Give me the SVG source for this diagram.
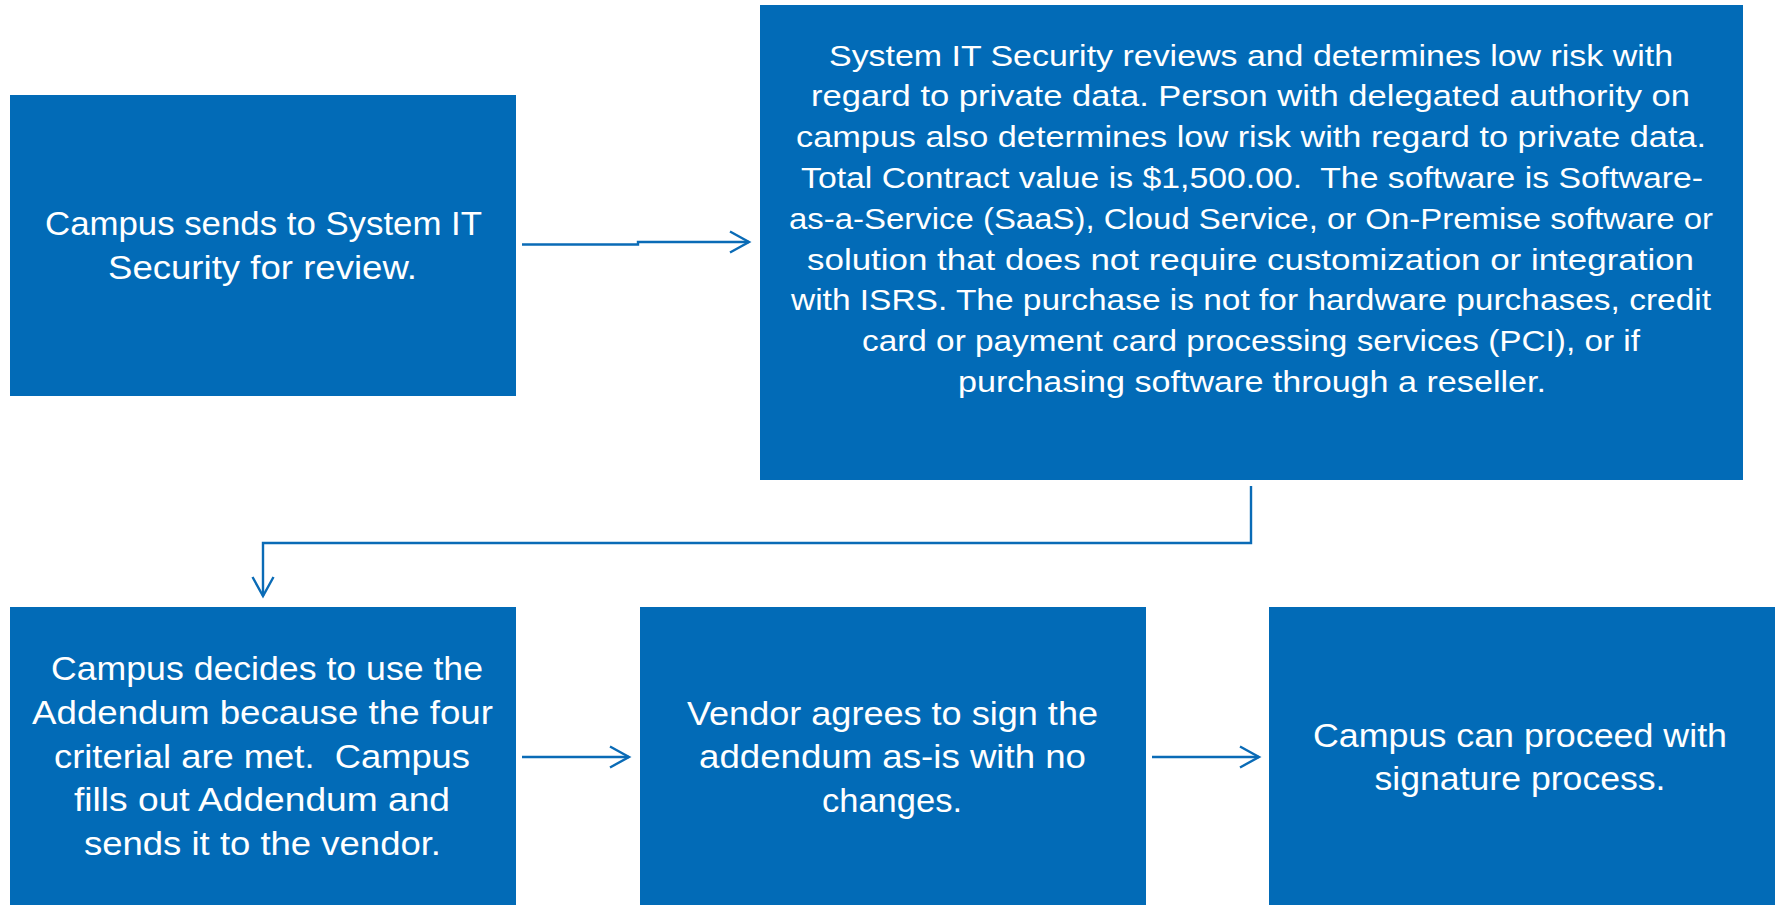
<svg xmlns="http://www.w3.org/2000/svg" width="1775" height="905" viewBox="0 0 1775 905" xml:space="preserve">
<defs>
<style>
.box{fill:#026BB7;}
.t{fill:#FFFFFF;font-family:"Liberation Sans",Arial,sans-serif;text-anchor:middle;white-space:pre;}
.big{font-size:33px;}
.small{font-size:30px;}
.conn{fill:none;stroke:#0A6BB6;stroke-width:2.4;}
</style>
<marker id="ah" markerWidth="26" markerHeight="28" refX="22" refY="13" orient="auto" markerUnits="userSpaceOnUse">
<path d="M3,2.5 L22,13 L3,23.5" fill="none" stroke="#0A6BB6" stroke-width="2.4"/>
</marker>
</defs>
<rect width="1775" height="905" fill="#FFFFFF"/>
<g id="connectors">
<path class="conn" d="M522,244.5 H638 V242 H749" marker-end="url(#ah)"/>
<path class="conn" d="M1251,486 V543 H263 V596" marker-end="url(#ah)"/>
<path class="conn" d="M522,757 H629" marker-end="url(#ah)"/>
<path class="conn" d="M1152,757 H1259" marker-end="url(#ah)"/>
</g>
<g id="node1">
<rect class="box" x="10" y="95" width="506" height="301"/>
<text class="t big" x="263.5" y="235" textLength="437" lengthAdjust="spacingAndGlyphs">Campus sends to System IT</text>
<text class="t big" x="262.5" y="279" textLength="309" lengthAdjust="spacingAndGlyphs">Security for review.</text>
</g>
<g id="node2">
<rect class="box" x="760" y="5" width="983" height="475"/>
<text class="t small" x="1251" y="65.5" textLength="844" lengthAdjust="spacingAndGlyphs">System IT Security reviews and determines low risk with</text>
<text class="t small" x="1250.5" y="106.3" textLength="879" lengthAdjust="spacingAndGlyphs">regard to private data. Person with delegated authority on</text>
<text class="t small" x="1251" y="147.1" textLength="910" lengthAdjust="spacingAndGlyphs">campus also determines low risk with regard to private data.</text>
<text class="t small" x="1252" y="187.9" textLength="902" lengthAdjust="spacingAndGlyphs">Total Contract value is $1,500.00.  The software is Software-</text>
<text class="t small" x="1251" y="228.7" textLength="924" lengthAdjust="spacingAndGlyphs">as-a-Service (SaaS), Cloud Service, or On-Premise software or</text>
<text class="t small" x="1250.5" y="269.5" textLength="887" lengthAdjust="spacingAndGlyphs">solution that does not require customization or integration</text>
<text class="t small" x="1251" y="310.3" textLength="920" lengthAdjust="spacingAndGlyphs">with ISRS. The purchase is not for hardware purchases, credit</text>
<text class="t small" x="1251" y="351.1" textLength="778" lengthAdjust="spacingAndGlyphs">card or payment card processing services (PCI), or if</text>
<text class="t small" x="1252" y="391.9" textLength="588" lengthAdjust="spacingAndGlyphs">purchasing software through a reseller.</text>
</g>
<g id="node3">
<rect class="box" x="10" y="607" width="506" height="298"/>
<text class="t big" x="267" y="680" textLength="432" lengthAdjust="spacingAndGlyphs">Campus decides to use the</text>
<text class="t big" x="262.5" y="724" textLength="461" lengthAdjust="spacingAndGlyphs">Addendum because the four</text>
<text class="t big" x="262" y="768" textLength="416" lengthAdjust="spacingAndGlyphs">criterial are met.  Campus</text>
<text class="t big" x="262" y="811" textLength="376" lengthAdjust="spacingAndGlyphs">fills out Addendum and</text>
<text class="t big" x="262.5" y="855" textLength="357" lengthAdjust="spacingAndGlyphs">sends it to the vendor.</text>
</g>
<g id="node4">
<rect class="box" x="640" y="607" width="506" height="298"/>
<text class="t big" x="892.5" y="725" textLength="411" lengthAdjust="spacingAndGlyphs">Vendor agrees to sign the</text>
<text class="t big" x="892.5" y="768" textLength="387" lengthAdjust="spacingAndGlyphs">addendum as-is with no</text>
<text class="t big" x="892" y="812" textLength="140" lengthAdjust="spacingAndGlyphs">changes.</text>
</g>
<g id="node5">
<rect class="box" x="1269" y="607" width="506" height="298"/>
<text class="t big" x="1520" y="747" textLength="414" lengthAdjust="spacingAndGlyphs">Campus can proceed with</text>
<text class="t big" x="1520" y="790" textLength="291" lengthAdjust="spacingAndGlyphs">signature process.</text>
</g>
</svg>
